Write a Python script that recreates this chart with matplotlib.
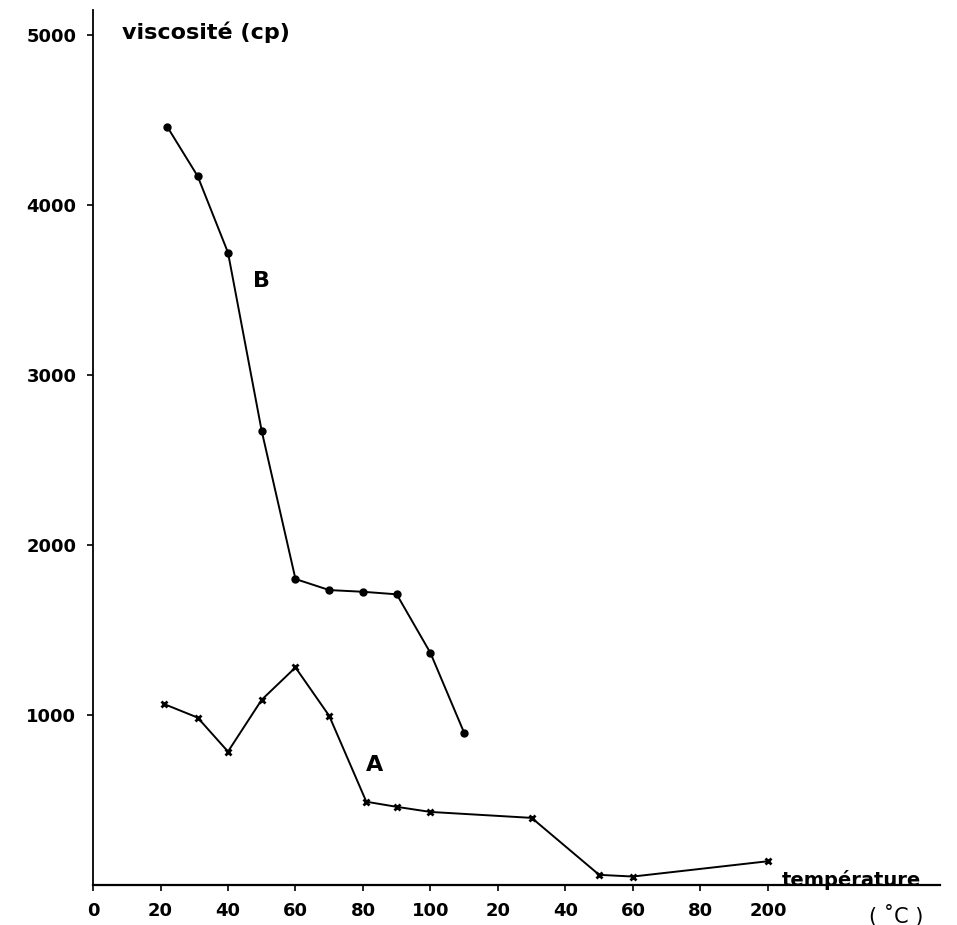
import matplotlib
matplotlib.use("Agg")
import matplotlib.pyplot as plt

# courbe B (points ronds)
temp_b = [22, 31, 40, 50, 60, 70, 80, 90, 100, 110]
visc_b = [4460, 4170, 3720, 2670, 1800, 1735, 1725, 1710, 1365, 895]

# courbe A (croix)
temp_a = [21, 31, 40, 50, 60, 70, 81, 90, 100, 130, 150, 160, 200]
visc_a = [1065, 985, 785, 1090, 1280, 995, 490, 460, 430, 395, 60, 50, 140]

xticks = [0, 20, 40, 60, 80, 100, 120, 140, 160, 180, 200]
xlabels = ["0", "20", "40", "60", "80", "100", "20", "40", "60", "80", "200"]
yticks = [1000, 2000, 3000, 4000, 5000]

fig = plt.figure(figsize=(9.57, 9.25), dpi=100)
ax = fig.add_axes([0.0972, 0.0432, 0.885, 0.946])

ax.plot(temp_b, visc_b, color="black", lw=1.4, marker="o", ms=5)
ax.plot(temp_a, visc_a, color="black", lw=1.4, marker="x", ms=5, mew=2)

ax.set_xlim(0, 251)
ax.set_ylim(0, 5147)
ax.spines["top"].set_visible(False)
ax.spines["right"].set_visible(False)
ax.spines["left"].set_linewidth(1.3)
ax.spines["bottom"].set_linewidth(1.6)

ax.set_xticks(xticks)
ax.set_xticklabels(xlabels, fontsize=13, fontweight="bold")
ax.set_yticks(yticks)
ax.set_yticklabels([str(v) for v in yticks], fontsize=13, fontweight="bold")
ax.tick_params(axis="both", length=4, width=1.2, pad=8)

ax.text(0.034, 0.975, "viscosité (cp)", transform=ax.transAxes,
        fontsize=16, fontweight="bold", va="center")
ax.text(50, 3555, "B", fontsize=16, fontweight="bold", ha="center", va="center")
ax.text(83.5, 705, "A", fontsize=16, fontweight="bold", ha="center", va="center")
ax.text(204, 30, "température", fontsize=14, fontweight="bold", va="center")
ax.text(238, -180, "( ˚C )", fontsize=15, ha="center", va="center")

fig.savefig("out.png", dpi=100)
